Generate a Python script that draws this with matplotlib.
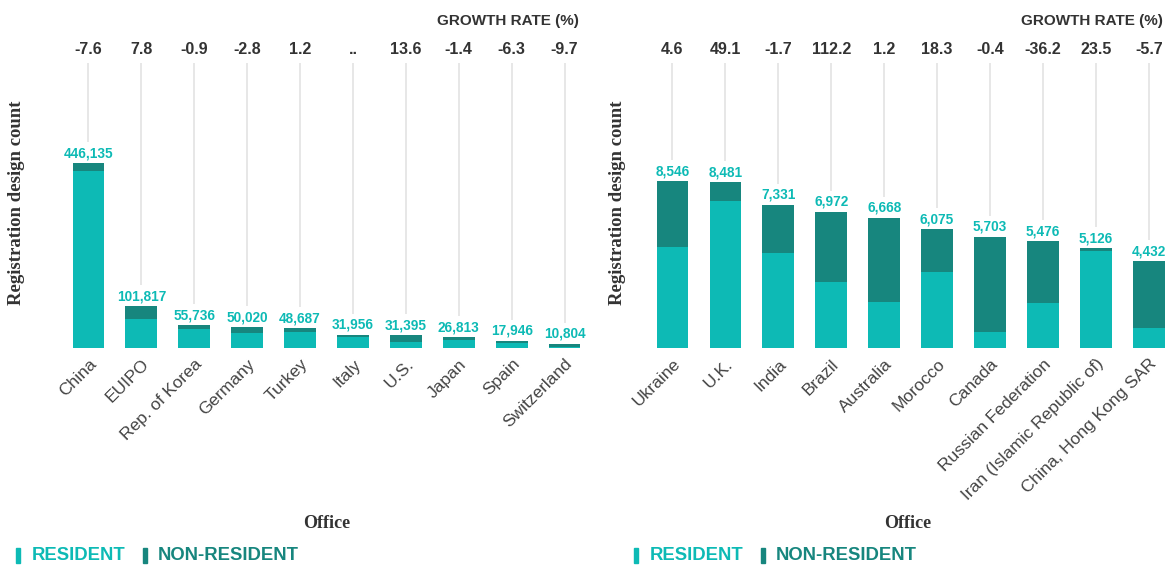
import numpy as np
import matplotlib.pyplot as plt
from matplotlib.patches import Rectangle

# dados - painel esquerdo
offices_a = ["China", "EUIPO", "Rep. of Korea", "Germany", "Turkey", "Italy",
             "U.S.", "Japan", "Spain", "Switzerland"]
total_a = np.array([446135, 101817, 55736, 50020, 48687, 31956, 31395, 26813, 17946, 10804])
resident_a = np.array([427000, 70800, 46700, 36800, 37500, 27600, 14300, 18400, 11800, 3200])
growth_a = ["-7.6", "7.8", "-0.9", "-2.8", "1.2", "..", "13.6", "-1.4", "-6.3", "-9.7"]

# dados - painel direito
offices_b = ["Ukraine", "U.K.", "India", "Brazil", "Australia", "Morocco", "Canada",
             "Russian Federation", "Iran (Islamic Republic of)", "China, Hong Kong SAR"]
total_b = np.array([8546, 8481, 7331, 6972, 6668, 6075, 5703, 5476, 5126, 4432])
resident_b = np.array([5165, 7525, 4857, 3370, 2344, 3883, 805, 2293, 4960, 1010])
growth_b = ["4.6", "49.1", "-1.7", "112.2", "1.2", "18.3", "-0.4", "-36.2", "23.5", "-5.7"]

c_res = "#0DBAB5"
c_non = "#17867E"
c_txt = "#333333"

W, H = 1171, 565
fig = plt.figure(figsize=(W / 100, H / 100), dpi=100)

base_px = 348
top_px = 63
ax_h = base_px - top_px


def panel(x0, x1, xmax, offices, total, resident, growth, top_bar_px, ylab_x):
    ax = fig.add_axes([x0 / W, (H - base_px) / H, (x1 - x0) / W, ax_h / H])
    ymax = total.max() * ax_h / (base_px - top_bar_px)
    x = np.arange(len(offices))
    non = total - resident
    ax.bar(x, resident, width=0.6, color=c_res, zorder=3)
    ax.bar(x, non, width=0.6, bottom=resident, color=c_non, zorder=3)
    px = ymax / ax_h
    ax.vlines(x, total + 21 * px, ymax, color="#e0e0e0", lw=1.1, zorder=1)
    for xi, t, g in zip(x, total, growth):
        ax.annotate(f"{t:,}", (xi, t), xytext=(0, 2), textcoords="offset points",
                    ha="center", va="bottom", color=c_res, fontsize=9.8,
                    fontweight="bold", family="Liberation Sans")
        ax.text(xi, 1 + 13 / ax_h, g, transform=ax.get_xaxis_transform(),
                ha="center", va="center", color=c_txt, fontsize=11.5,
                fontweight="bold", family="Liberation Sans")
    ax.set_xlim(-0.5, xmax)
    ax.set_ylim(0, ymax)
    ax.set_xticks(x)
    ax.set_xticklabels(offices, rotation=45, ha="right", rotation_mode="anchor",
                       fontsize=12.5, color="#444444", family="Liberation Sans")
    ax.tick_params(axis="x", length=0, pad=6)
    ax.set_yticks([])
    for s in ax.spines.values():
        s.set_visible(False)
    fig.text(ylab_x / W, 1 - 203 / H, "Registration design count", rotation=90,
             ha="center", va="center", fontsize=13.5, fontweight="bold",
             family="Liberation Serif", color=c_txt)
    fig.text((x0 + x1) / 2 / W, 1 - 524 / H, "Office", ha="center", va="center",
             fontsize=13, fontweight="bold", family="Liberation Serif", color=c_txt)
    return ax


panel(62, 591, 9.5, offices_a, total_a, resident_a, growth_a, 163, 17)
panel(646, 1170, 9.4, offices_b, total_b, resident_b, growth_b, 181, 617)

# cabeçalhos e legendas
for right_px, leg_px in [(579, 16), (1163, 634)]:
    fig.text(right_px / W, 1 - 21 / H, "GROWTH RATE (%)", ha="right", va="center",
             fontsize=11, fontweight="bold", family="Liberation Sans", color=c_txt)
    for dx, txt_dx, label, col in [(0, 16, "RESIDENT", c_res), (127, 142, "NON-RESIDENT", c_non)]:
        fig.patches.append(Rectangle(((leg_px + dx) / W, 1 - 563 / H), 4 / W, 15 / H,
                                     transform=fig.transFigure, color=col))
        fig.text((leg_px + txt_dx) / W, 1 - 555 / H, label, ha="left", va="center",
                 fontsize=13.3, fontweight="bold", family="Liberation Sans", color=col)

plt.savefig("out.png", dpi=100)
